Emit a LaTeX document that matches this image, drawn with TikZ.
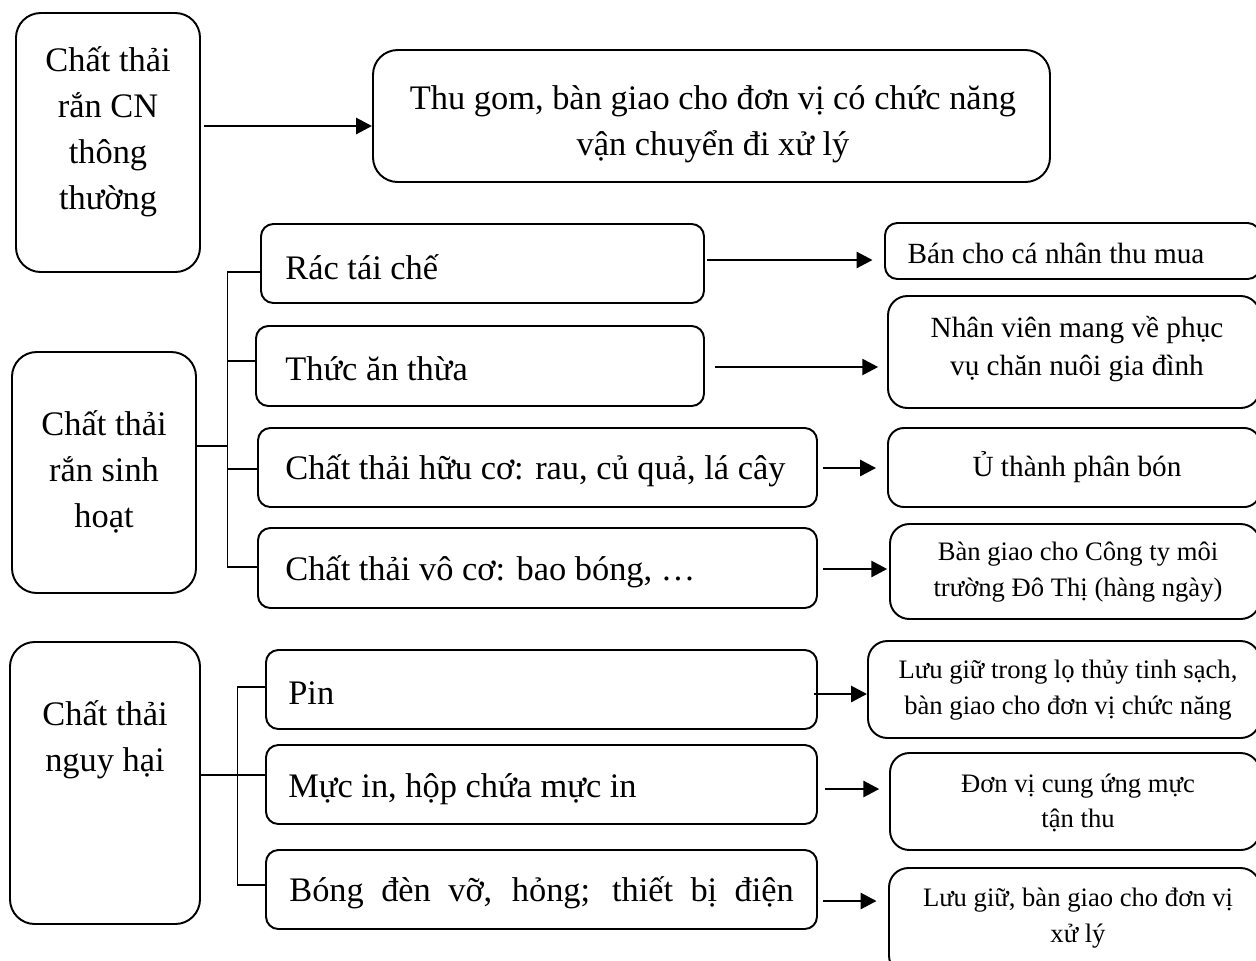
\documentclass[tikz,border=0pt]{standalone}
\usepackage{fontspec}
\setmainfont{Liberation Serif}
\usetikzlibrary{arrows.meta}
\tikzset{
  box/.style={draw, line width=1.1pt, rounded corners=#1, inner sep=0pt},
  box/.default=7pt,
  big/.style={font=\fontsize{19.5}{26}\selectfont, align=center, inner sep=0pt},
  mid/.style={font=\fontsize{16.6}{21.5}\selectfont, align=center, inner sep=0pt},
  small/.style={font=\fontsize{15.1}{20}\selectfont, align=center, inner sep=0pt},
  link/.style={line width=1.1pt},
  arr/.style={line width=1.6pt, -{Triangle[length=9pt,width=9pt]}},
}
% rounded box from corner (x1,y1) to (x2,y2), given in pixel units
\newcommand\bx[6]{%
  \node[box=#6, minimum width={(#4-#2)*0.5669pt}, minimum height={(#5-#3)*0.5669pt}]
    (#1) at ({(#2+#4)/2},{(#3+#5)/2}) {};}
\begin{document}
\begin{tikzpicture}[x=0.5669pt,y=-0.5669pt]
\useasboundingbox (0,0) rectangle (1256,960);
\clip (0,0) rectangle (1256,960);

% ---- industrial solid waste
\bx{cn}{16}{13}{200}{272}{14pt}
\bx{thu}{373}{50}{1050}{182}{14pt}
\node[big] (cnT) at (108,132) {Chất thải\\rắn CN\\thông\\thường};
\node[big] (thuT) at (713,124) {Thu gom, bàn giao cho đơn vị có chức năng\\vận chuyển đi xử lý};
\draw[arr] (cn.east |- 0,126) ++(3,0) -- (thu.west |- 0,126);

% ---- domestic solid waste
\bx{sh}{12}{352}{196}{593}{14pt}
\node[big] (shT) at (104,472) {Chất thải\\rắn sinh\\hoạt};

\bx{rac}{261}{224}{704}{303}{7pt}
\bx{thuc}{256}{326}{704}{406}{7pt}
\bx{huu}{258}{428}{817}{507}{7pt}
\bx{vo}{258}{528}{817}{608}{7pt}
\node[big,anchor=west] (racT) at (285,267) {Rác tái chế};
\node[big,anchor=west] (thucT) at (285,369) {Thức ăn thừa};
\node[big,anchor=west] (huuT) at (285,471) {Chất thải hữu cơ: rau, củ quả, lá cây};
\node[big,anchor=west] (voT) at (285,572) {Chất thải vô cơ: bao bóng, …};

\coordinate (shTop) at (227.5,272);
\coordinate (shBot) at (227.5,567);
\draw[link] (sh.east |- 0,446) -- (shTop |- 0,446);
\draw[link] (rac.west |- shTop) -- (shTop) -- (shBot) -- (vo.west |- shBot);
\draw[link] (thuc.west |- 0,361) -- (shTop |- 0,361);
\draw[link] (huu.west |- 0,469) -- (shTop |- 0,469);

\bx{ban}{885}{223}{1260}{279}{7pt}
\bx{nv}{888}{296}{1260}{408}{11pt}
\bx{u}{888}{428}{1260}{507}{9pt}
\bx{bg}{890}{524}{1260}{619}{11pt}
\node[mid] (banT) at (1056,253) {Bán cho cá nhân thu mua};
\node[mid] (nvT) at (1077,349) {Nhân viên mang về phục\\vụ chăn nuôi gia đình};
\node[mid] (uT) at (1077,467) {Ủ thành phân bón};
\node[small] (bgT) at (1078,572) {Bàn giao cho Công ty môi\\trường Đô Thị (hàng ngày)};

\draw[arr, shorten <=1.2pt, shorten >=6.5pt] (rac.east |- 0,260) -- (ban.west |- 0,260);
\draw[arr, shorten <=5.7pt, shorten >=5pt] (thuc.east |- 0,367) -- (nv.west |- 0,367);
\draw[arr, shorten <=2.8pt, shorten >=6.2pt] (huu.east |- 0,468) -- (u.west |- 0,468);
\draw[arr, shorten <=2.8pt, shorten >=1pt] (vo.east |- 0,569) -- (bg.west |- 0,569);

% ---- hazardous waste
\bx{nh}{10}{642}{200}{924}{14pt}
\node[big] (nhT) at (105,740) {Chất thải\\nguy hại};

\bx{pin}{266}{650}{817}{729}{7pt}
\bx{muc}{266}{745}{817}{824}{7pt}
\bx{bong}{266}{850}{817}{929}{7pt}
\node[big,anchor=west] (pinT) at (288,693) {Pin};
\node[big,anchor=west] (mucT) at (288,789) {Mực in, hộp chứa mực in};
\node[big,anchor=west] (bongT) at (289,893) {\makebox[286pt][s]{Bóng đèn vỡ, hỏng; thiết bị điện}};

\coordinate (nhTop) at (237.5,687);
\coordinate (nhBot) at (237.5,885);
\draw[link] (nh.east |- 0,775) -- (muc.west |- 0,775);
\draw[link] (pin.west |- nhTop) -- (nhTop) -- (nhBot) -- (bong.west |- nhBot);

\bx{lg}{868}{641}{1260}{738}{11pt}
\bx{dv}{890}{753}{1260}{850}{11pt}
\bx{lg2}{889}{868}{1260}{975}{11pt}
\node[small] (lgT) at (1068,690) {Lưu giữ trong lọ thủy tinh sạch,\\bàn giao cho đơn vị chức năng};
\node[small] (dvT) at (1078,803) {Đơn vị cung ứng mực\\tận thu};
\node[small] (lg2T) at (1078,918) {Lưu giữ, bàn giao cho đơn vị\\xử lý};

\draw[arr, shorten <=-2pt] (pin.east |- 0,694) -- (lg.west |- 0,694);
\draw[arr, shorten <=4pt, shorten >=5.5pt] (muc.east |- 0,789) -- (dv.west |- 0,789);
\draw[arr, shorten <=3pt, shorten >=6.5pt] (bong.east |- 0,901) -- (lg2.west |- 0,901);
\end{tikzpicture}
\end{document}
